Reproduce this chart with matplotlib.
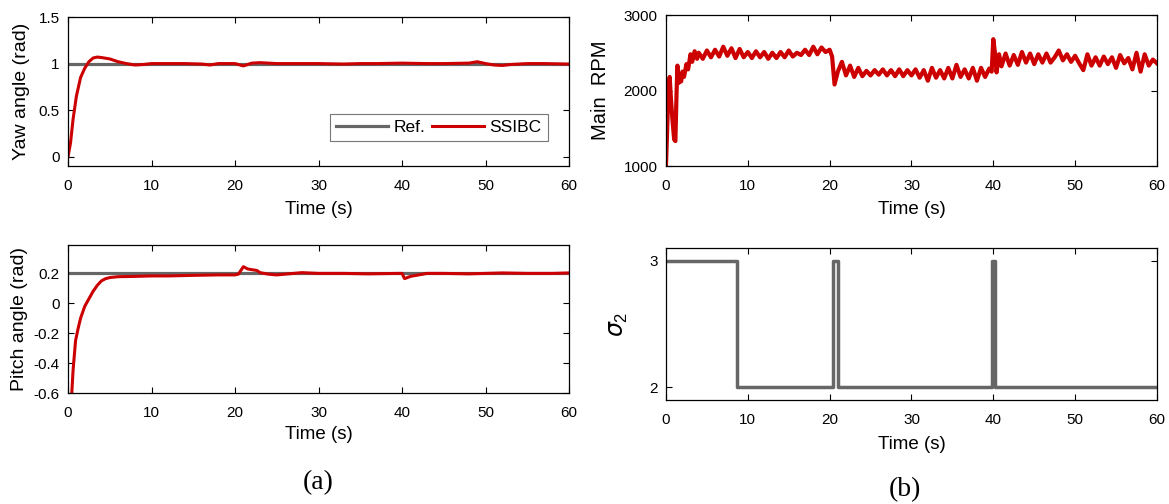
import matplotlib
matplotlib.use("Agg")
import matplotlib.pyplot as plt

plt.rcParams['font.family'] = ['Liberation Sans', 'DejaVu Sans']
plt.rcParams['mathtext.fontset'] = 'custom'
plt.rcParams['mathtext.it'] = 'DejaVu Sans:italic'
plt.rcParams['mathtext.rm'] = 'Liberation Sans'

# ---- data ----
yaw_ref = 1.0
yaw_t = [0, 0.3, 0.6, 1.0, 1.5, 2.0, 2.5, 3.0, 3.5, 4.0, 5.0, 6.0, 7.0, 8.0, 9.0, 10,
         12, 14, 16, 17, 18, 20, 21, 22, 23, 25, 27, 30, 33, 35, 37, 40, 43, 45, 48,
         49, 50, 51, 52, 53, 55, 57, 60]
yaw_v = [0, 0.15, 0.4, 0.65, 0.85, 0.95, 1.02, 1.06, 1.07, 1.065, 1.05, 1.02, 1.0,
         0.985, 0.99, 1.0, 1.0, 1.0, 0.995, 0.985, 1.0, 1.0, 0.975, 1.005, 1.01, 1.0,
         1.0, 1.0, 0.995, 1.0, 1.0, 1.005, 1.0, 1.0, 1.005, 1.02, 1.0, 0.985, 0.98,
         0.99, 1.0, 1.0, 0.995]

pitch_ref = 0.2
pitch_t = [0, 0.4, 0.6, 0.9, 1.2, 1.5, 2.0, 2.5, 3.0, 3.5, 4.0, 4.5, 5.0, 6.0, 8.0,
           10, 12, 15, 18, 20, 20.4, 21.0, 21.5, 22.0, 22.6, 23.0, 24.0, 25.0, 26.0,
           27.0, 28.0, 30, 33, 36, 39.5, 40.0, 40.3, 41.0, 42.0, 43.0, 45, 48, 50, 52,
           55, 58, 60]
pitch_v = [-1.0, -0.65, -0.45, -0.25, -0.17, -0.1, -0.02, 0.03, 0.08, 0.12, 0.15,
           0.165, 0.172, 0.178, 0.18, 0.183, 0.183, 0.187, 0.19, 0.19, 0.195, 0.245,
           0.23, 0.225, 0.22, 0.205, 0.195, 0.19, 0.195, 0.2, 0.205, 0.2, 0.2, 0.197,
           0.2, 0.2, 0.165, 0.18, 0.19, 0.2, 0.2, 0.197, 0.2, 0.203, 0.2, 0.2, 0.203]

rpm_t = [0, 0.15, 0.3, 0.45, 0.6, 0.8, 1.0, 1.15, 1.3, 1.4, 1.55, 1.7, 1.85, 2.0, 2.2,
         2.5, 2.7, 3.0, 3.2, 3.5, 3.8,
         4.0, 4.5, 5.0, 5.5, 6.0, 6.5, 7.0, 7.5, 8.0, 8.5, 9.0, 9.5, 10.0, 10.5, 11.0,
         11.5, 12.0, 12.5, 13.0, 13.5, 14.0, 14.5, 15.0, 15.5, 16.0, 16.5, 17.0, 17.5,
         18.0, 18.5, 19.0, 19.5, 20.0,
         20.3, 20.6, 21.0, 21.5, 22.0, 22.5, 23.0, 23.5, 24.0, 24.5, 25.0, 25.5, 26.0,
         26.5, 27.0, 27.5, 28.0, 28.5, 29.0, 29.5, 30.0, 30.5, 31.0, 31.5, 32.0, 32.5,
         33.0, 33.5, 34.0, 34.5, 35.0, 35.5, 36.0, 36.5, 37.0, 37.5, 38.0, 38.5, 39.0,
         39.5, 39.8,
         40.0, 40.2, 40.4, 40.7, 41.0, 41.5, 42.0, 42.5, 43.0, 43.5, 44.0, 44.5, 45.0,
         45.5, 46.0, 46.5, 47.0, 47.5, 48.0, 48.5, 49.0, 49.5, 50.0, 50.5, 51.0, 51.5,
         52.0, 52.5, 53.0, 53.5, 54.0, 54.5, 55.0, 55.5, 56.0, 56.5, 57.0, 57.5, 58.0,
         58.5, 59.0, 59.5, 60.0]
rpm_v = [1000, 1500, 2000, 2180, 1900, 1600, 1350, 1330, 2000, 2330, 2100, 2200, 2120,
         2250, 2180, 2350, 2280, 2480, 2380, 2520, 2420,
         2500, 2420, 2530, 2440, 2540, 2450, 2580, 2460, 2560, 2430, 2550, 2440, 2510,
         2430, 2520, 2440, 2510, 2420, 2500, 2430, 2510, 2440, 2530, 2450, 2500, 2470,
         2540, 2470, 2580, 2480, 2570, 2510, 2540,
         2450, 2080, 2250, 2380, 2200, 2330, 2180, 2300, 2190, 2260, 2200, 2270, 2210,
         2280, 2200, 2270, 2190, 2280, 2190, 2270, 2200, 2280, 2170, 2270, 2130, 2300,
         2170, 2270, 2160, 2300, 2160, 2340, 2180, 2280, 2160, 2300, 2130, 2300, 2180,
         2290, 2250,
         2680, 2500, 2240, 2480, 2320, 2490, 2330, 2470, 2340, 2510, 2370, 2490, 2350,
         2480, 2370, 2490, 2370, 2440, 2530, 2400, 2480, 2380, 2460, 2360, 2270, 2480,
         2330, 2440, 2330, 2450, 2350, 2440, 2300, 2470, 2360, 2430, 2280, 2500, 2250,
         2480, 2330, 2410, 2360]

sigma_t = [0, 8.7, 20.4, 21.0, 39.85, 40.15, 60]
sigma_v = [3, 2, 3, 2, 3, 2, 2]

red = '#cc0000'
gray = '#666666'
tick_fs = 11
lab_fs = 13.5


def style(ax, xpad=8):
    ax.set_xlim(0, 60)
    ax.set_xticks([0, 10, 20, 30, 40, 50, 60])
    ax.tick_params(direction='in', top=True, right=True, length=4, width=0.8,
                   labelsize=tick_fs, pad=6)
    ax.tick_params(axis='x', pad=9)
    for s in ax.spines.values():
        s.set_linewidth(0.9)
    ax.set_xlabel('Time (s)', fontsize=lab_fs, labelpad=xpad)


fig = plt.figure(figsize=(11.69, 5.04), dpi=100)

ax1 = fig.add_axes([0.0582, 0.6706, 0.4286, 0.2956])
ax1.plot([0, 60], [yaw_ref, yaw_ref], color=gray, lw=2.3, label='Ref.')
ax1.plot(yaw_t, yaw_v, color=red, lw=2.2, label='SSIBC')
ax1.set_ylim(-0.1, 1.5)
ax1.set_yticks([0, 0.5, 1, 1.5])
ax1.set_yticklabels(['0', '0.5', '1', '1.5'])
ax1.set_ylabel('Yaw angle (rad)', fontsize=14, labelpad=6)
style(ax1, xpad=6)
leg = ax1.legend(loc='lower right', bbox_to_anchor=(0.975, 0.11), ncol=2,
                 fontsize=12.5, frameon=True, fancybox=False, handlelength=3.0,
                 columnspacing=0.4, handletextpad=0.3, borderpad=0.35)
leg.get_frame().set_edgecolor('#555555')
leg.get_frame().set_linewidth(0.8)

ax2 = fig.add_axes([0.0582, 0.2202, 0.4286, 0.2937])
ax2.plot([0, 60], [pitch_ref, pitch_ref], color=gray, lw=2.3)
ax2.plot(pitch_t, pitch_v, color=red, lw=2.2)
ax2.set_ylim(-0.6, 0.39)
ax2.set_yticks([-0.6, -0.4, -0.2, 0, 0.2])
ax2.set_yticklabels(['-0.6', '-0.4', '-0.2', '0', '0.2'])
ax2.set_ylabel('Pitch angle (rad)', fontsize=14, labelpad=4)
style(ax2, xpad=5)

ax3 = fig.add_axes([0.5697, 0.6706, 0.4200, 0.2996])
ax3.plot(rpm_t, rpm_v, color=red, lw=3.0)
ax3.set_ylim(1000, 3000)
ax3.set_yticks([1000, 2000, 3000])
ax3.set_ylabel('Main  RPM', fontsize=14.5, labelpad=10)
style(ax3, xpad=6)

ax4 = fig.add_axes([0.5697, 0.2063, 0.4200, 0.3016])
ax4.step(sigma_t, sigma_v, where='post', color=gray, lw=2.5)
ax4.set_ylim(1.9, 3.1)
ax4.set_yticks([2, 3])
ax4.set_ylabel(r'$\sigma_{\mathrm{2}}$', fontsize=17, labelpad=14)
style(ax4, xpad=7)

fig.text(318 / 1169, 1 - 483 / 504, '(a)', ha='center', va='center',
         fontsize=20, family='Liberation Serif')
fig.text(905 / 1169, 1 - 490 / 504, '(b)', ha='center', va='center',
         fontsize=20, family='Liberation Serif')

fig.savefig('out.png', dpi=100)
